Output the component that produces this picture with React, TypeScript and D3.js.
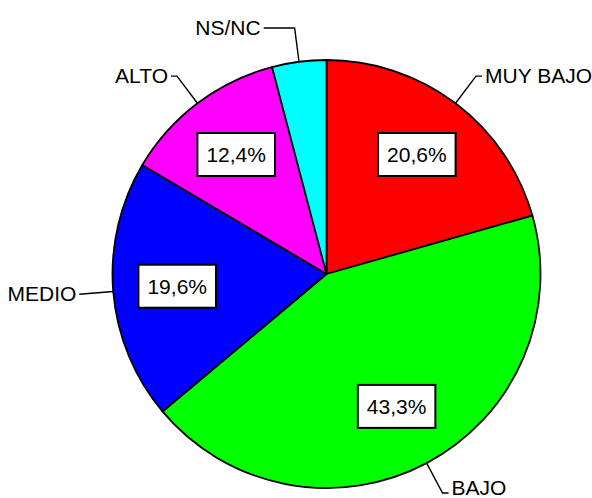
import React, { useEffect, useRef } from 'react';
import * as d3 from 'd3';

// categories and shares (%), read clockwise from 12 o'clock
const categories = ['MUY BAJO', 'BAJO', 'MEDIO', 'ALTO', 'NS/NC'];
const shares = [20.6, 43.3, 19.6, 12.4, 4.1];
const percentLabels = ['20,6%', '43,3%', '19,6%', '12,4%', null];
const sliceColors = ['#ff0000', '#00ff00', '#0000ff', '#ff00ff', '#00ffff'];

const App = () => {
  const svgRef = useRef(null);

  useEffect(() => {
    const width = 592;
    const height = 498;
    const cx = 326.5;
    const cy = 274;
    const radius = 214;
    const font = "Arial, 'Liberation Sans', sans-serif";

    const svg = d3.select(svgRef.current)
      .attr('width', width)
      .attr('height', height);
    svg.selectAll('*').remove();

    const g = svg.append('g').attr('transform', `translate(${cx},${cy})`);

    const data = categories.map((c, i) => ({
      name: c,
      value: shares[i],
      pct: percentLabels[i],
      color: sliceColors[i],
    }));

    const pie = d3.pie().sort(null).value(d => d.value);
    const arc = d3.arc().innerRadius(0).outerRadius(radius);
    const arcs = pie(data);

    // slices
    g.selectAll('.slice')
      .data(arcs)
      .enter()
      .append('path')
      .attr('class', 'slice')
      .attr('d', arc)
      .attr('fill', d => d.data.color)
      .attr('stroke', '#000')
      .attr('stroke-width', 1.8)
      .attr('stroke-linejoin', 'round');

    // point at a given radius along the slice's middle angle
    const polar = (d, r) => {
      const a = (d.startAngle + d.endAngle) / 2;
      return [r * Math.sin(a), -r * Math.cos(a)];
    };

    // leader lines + category names
    const elbowR = 248;
    const tailLen = { 'NS/NC': 31, 'MEDIO': 0 };
    const maxY = height - cy - 4;
    arcs.forEach(d => {
      const [x0, y0] = polar(d, radius);
      let [x1, y1] = polar(d, elbowR);
      y1 = Math.min(y1, maxY - 1);
      const right = x1 > 0;
      const tail = tailLen[d.data.name] ?? 6;
      const x2 = x1 + (right ? tail : -tail);
      g.append('path')
        .attr('d', `M${x0},${y0}L${x1},${y1}L${x2},${y1}`)
        .attr('fill', 'none')
        .attr('stroke', '#000')
        .attr('stroke-width', 1.4);
      g.append('text')
        .attr('x', x2 + (right ? 3 : -3))
        .attr('y', Math.min(y1 + 7, maxY + 1))
        .attr('text-anchor', right ? 'start' : 'end')
        .attr('font-family', font)
        .attr('font-size', 21)
        .attr('fill', '#000')
        .text(d.data.name);
    });

    // percentage boxes
    const labelR = radius * 0.7;
    arcs.filter(d => d.data.pct).forEach(d => {
      const [x, y] = polar(d, labelR);
      const lg = g.append('g').attr('transform', `translate(${x},${y})`);
      const rect = lg.append('rect').attr('fill', '#fff').attr('stroke', '#000').attr('stroke-width', 2);
      const t = lg.append('text')
        .attr('text-anchor', 'middle')
        .attr('dy', '0.35em')
        .attr('font-family', font)
        .attr('font-size', 21)
        .attr('fill', '#000')
        .text(d.data.pct);
      const w = t.node().getBBox().width + 18;
      const h = 43;
      rect.attr('x', -w / 2).attr('y', -h / 2).attr('width', w).attr('height', h);
    });
  }, []);

  return (
    <svg ref={svgRef} style={{ position: 'absolute', left: 0, top: 0, background: '#fff' }}></svg>
  );
};

export default App;
